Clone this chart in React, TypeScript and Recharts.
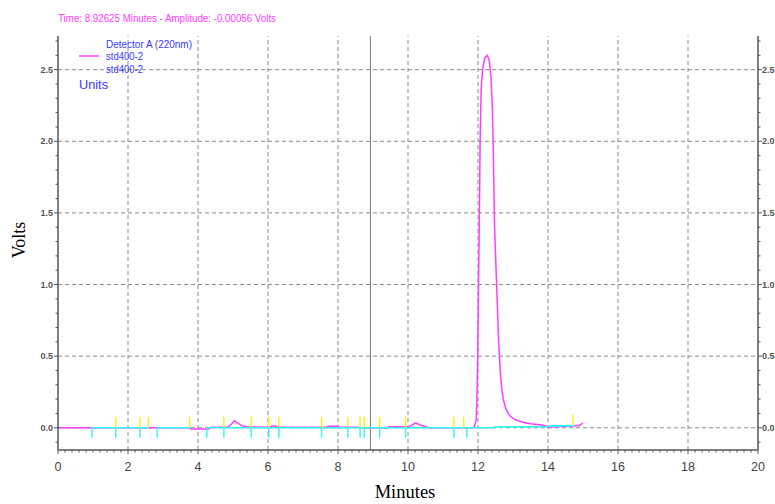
import React from "react"
import { ComposedChart, Line, Scatter, XAxis, YAxis, ReferenceLine } from "recharts"

// std400-2 trace (minutes, volts)
const sampleTimes = [
  0, 3.75, 3.8, 4.3, 4.38, 4.85, 4.95, 5.04, 5.15, 5.25, 5.4, 6.05, 6.12, 6.2, 6.3, 7.65, 7.72, 8.0, 8.05,
  8.6, 8.65, 9.4, 9.45, 10.05, 10.15, 10.22, 10.35, 10.5, 10.6, 11.85, 11.9, 11.95, 11.98, 12.01, 12.04,
  12.06, 12.09, 12.13, 12.19, 12.26, 12.32, 12.37, 12.41, 12.44, 12.47, 12.52, 12.56, 12.59, 12.63, 12.67,
  12.72, 12.8, 12.9, 13.05, 13.28, 13.5, 13.76, 13.95, 14.0, 14.75, 14.88, 14.95, 15.0,
]
const sampleVolts = [
  0, 0, -0.008, -0.008, 0.004, 0.004, 0.025, 0.049, 0.03, 0.015, 0.006, 0.004, 0.012, 0.013, 0.004, 0.004,
  0.01, 0.01, 0.004, 0.003, 0, 0, 0.008, 0.008, 0.025, 0.033, 0.02, 0.008, 0, 0, 0.01, 0.06, 0.3, 0.9, 1.5,
  2.0, 2.36, 2.5, 2.58, 2.6, 2.57, 2.45, 2.24, 1.9, 1.43, 1.08, 0.8, 0.6, 0.42, 0.29, 0.2, 0.13, 0.085, 0.058,
  0.038, 0.028, 0.021, 0.013, 0.006, 0.012, 0.015, 0.025, 0.032,
]

// integration baseline (null = gap)
const baseTimes = [0.95, 2.58, 2.7, 2.83, 3.76, 4.0, 4.25, 12.44, 12.46, 13.98, 14.0, 14.75]
const baseVolts = [0, 0, null, 0, 0, null, 0, 0, 0.006, 0.008, 0.012, 0.015]

// event marks
const startEvents = [1.65, 2.34, 2.58, 3.76, 4.74, 5.52, 6.02, 6.31, 7.53, 8.28, 8.63, 8.75, 9.19, 9.93, 11.31, 11.59, 14.71]
const startLevels = [0, 0, 0, 0, 0, 0, 0, 0, 0, 0, 0, 0, 0, 0, 0, 0, 0.015]
const endEvents = [0.97, 1.65, 2.34, 2.83, 4.25, 4.74, 5.52, 6.02, 6.31, 7.53, 8.28, 8.63, 8.75, 9.19, 9.93, 11.31, 11.68]

const xMajorTicks = [0, 2, 4, 6, 8, 10, 12, 14, 16, 18, 20]
const yMajorTicks = [0, 0.5, 1.0, 1.5, 2.0, 2.5]
const cursorTime = 8.92625

const xTicks: number[] = []
for (let i = 0; i <= 100; i++) xTicks.push(Math.round(i * 2) / 10)
const yTicks: number[] = []
for (let i = -1; i <= 27; i++) yTicks.push(Math.round(i) / 10)

const isMajor = (v: number, step: number) => Math.abs(v / step - Math.round(v / step)) < 1e-6

const sampleData = sampleTimes.map((t, i) => ({ t, v: sampleVolts[i] }))
const baseData = baseTimes.map((t, i) => ({ t, v: baseVolts[i] }))
const startData = startEvents.map((t, i) => ({ t, v: startLevels[i] }))
const endData = endEvents.map((t) => ({ t, v: 0 }))

const MAGENTA = "#ff3cff"
const CYAN = "#30f4f4"
const YELLOW = "#f2f21a"
const BLUE = "#3a3aff"
const AXIS = "#555555"
const GRID = "#8a8a8a"
const TICK_FONT = "'Liberation Sans Narrow', 'Liberation Sans', Arial, sans-serif"

const XTick = (props: any) => {
  const { x, y, payload } = props
  const major = isMajor(payload.value, 2)
  return (
    <g>
      <line x1={x} x2={x} y1={y} y2={y + (major ? 4 : 2.5)} stroke={AXIS} strokeWidth={1} />
      {major && (
        <text x={x} y={y + 21} textAnchor="middle" fontSize={12.5} fill="#444" fontFamily={TICK_FONT}>
          {payload.value}
        </text>
      )}
    </g>
  )
}

const YTickLeft = (props: any) => {
  const { x, y, payload } = props
  const major = isMajor(payload.value, 0.5)
  return (
    <g>
      <line x1={x} x2={x - (major ? 4 : 2.5)} y1={y} y2={y} stroke={AXIS} strokeWidth={1} />
      {major && (
        <text x={x - 5} y={y + 3} textAnchor="end" fontSize={9} fontWeight="bold" fill="#555" fontFamily={TICK_FONT}>
          {payload.value.toFixed(1)}
        </text>
      )}
    </g>
  )
}

const YTickRight = (props: any) => {
  const { x, y, payload } = props
  const major = isMajor(payload.value, 0.5)
  return (
    <g>
      <line x1={x} x2={x + (major ? 4 : 2.5)} y1={y} y2={y} stroke={AXIS} strokeWidth={1} />
      {major && (
        <text x={x + 4} y={y + 3} textAnchor="start" fontSize={9} fontWeight="bold" fill="#555" fontFamily={TICK_FONT}>
          {payload.value.toFixed(1)}
        </text>
      )}
    </g>
  )
}

const StartMark = (props: any) => {
  const { cx, cy } = props
  return <line x1={cx} x2={cx} y1={cy} y2={cy - 11} stroke={YELLOW} strokeWidth={1.4} />
}

const EndMark = (props: any) => {
  const { cx, cy } = props
  return <line x1={cx} x2={cx} y1={cy} y2={cy + 10} stroke={CYAN} strokeWidth={1.4} />
}

const Y_DOMAIN: [number, number] = [-0.155, 2.735]

export default function App() {
  return (
    <div style={{ position: "absolute", left: 0, top: 0, width: 775, height: 504, background: "#fff", overflow: "hidden" }}>
      <ComposedChart width={775} height={504} margin={{ top: 36, right: 0, bottom: 0, left: 0 }}>
        <XAxis
          xAxisId="top"
          orientation="top"
          type="number"
          domain={[0, 20]}
          height={0}
          tick={false}
          tickLine={false}
          axisLine={{ stroke: AXIS, strokeWidth: 1.5 }}
        />
        <XAxis
          dataKey="t"
          type="number"
          domain={[0, 20]}
          ticks={xTicks}
          interval={0}
          height={54}
          tickSize={0}
          tickMargin={0}
          tickLine={false}
          tick={<XTick />}
          axisLine={{ stroke: AXIS, strokeWidth: 1.5 }}
        />
        <YAxis
          yAxisId="left"
          dataKey="v"
          type="number"
          domain={Y_DOMAIN}
          allowDataOverflow
          ticks={yTicks}
          interval={0}
          width={58}
          tickSize={0}
          tickMargin={0}
          tickLine={false}
          tick={<YTickLeft />}
          axisLine={{ stroke: AXIS, strokeWidth: 1.5 }}
        />
        <YAxis
          yAxisId="right"
          orientation="right"
          type="number"
          domain={Y_DOMAIN}
          allowDataOverflow
          ticks={yTicks}
          interval={0}
          width={17}
          tickSize={0}
          tickMargin={0}
          tickLine={false}
          tick={<YTickRight />}
          axisLine={{ stroke: AXIS, strokeWidth: 1.5 }}
        />
        {xMajorTicks.slice(1, -1).map((v) => (
          <ReferenceLine key={"gx" + v} x={v} yAxisId="left" stroke={GRID} strokeDasharray="4 3" />
        ))}
        {yMajorTicks.map((v) => (
          <ReferenceLine key={"gy" + v} y={v} yAxisId="left" stroke={GRID} strokeDasharray="4 3" />
        ))}
        <ReferenceLine x={cursorTime} yAxisId="left" stroke="#7a7a7a" strokeWidth={1} />
        <Line
          yAxisId="left"
          data={sampleData}
          dataKey="v"
          type="linear"
          stroke={MAGENTA}
          strokeWidth={1.5}
          dot={false}
          isAnimationActive={false}
        />
        <Line
          yAxisId="left"
          data={baseData}
          dataKey="v"
          type="linear"
          stroke={CYAN}
          strokeWidth={1.6}
          dot={false}
          connectNulls={false}
          isAnimationActive={false}
        />
        <Scatter yAxisId="left" data={startData} dataKey="v" shape={<StartMark />} isAnimationActive={false} />
        <Scatter yAxisId="left" data={endData} dataKey="v" shape={<EndMark />} isAnimationActive={false} />
      </ComposedChart>
      <svg width={775} height={504} style={{ position: "absolute", left: 0, top: 0, pointerEvents: "none" }}>
        <text x={58} y={22} fontSize={10} fill={MAGENTA} fontFamily="'Liberation Sans', Arial, sans-serif" textLength={218} lengthAdjust="spacingAndGlyphs">
          Time:  8.92625 Minutes - Amplitude:  -0.00056 Volts
        </text>
        <text x={106} y={48} fontSize={10.5} fill={BLUE} fontFamily="'Liberation Sans', Arial, sans-serif" textLength={86} lengthAdjust="spacingAndGlyphs">
          Detector A (220nm)
        </text>
        <line x1={79} x2={99} y1={56} y2={56} stroke={MAGENTA} strokeWidth={1.5} />
        <text x={106} y={60} fontSize={10.5} fill={BLUE} fontFamily="'Liberation Sans', Arial, sans-serif" textLength={37} lengthAdjust="spacingAndGlyphs">
          std400-2
        </text>
        <text x={106} y={72.5} fontSize={10.5} fill={BLUE} fontFamily="'Liberation Sans', Arial, sans-serif" textLength={37} lengthAdjust="spacingAndGlyphs">
          std400-2
        </text>
        <text x={79} y={89} fontSize={13.5} fill={BLUE} fontFamily="'Liberation Sans', Arial, sans-serif" textLength={29} lengthAdjust="spacingAndGlyphs">
          Units
        </text>
        <text x={25} y={240} transform="rotate(-90 25 240)" textAnchor="middle" fontSize={18} fill="#000" fontFamily="'Liberation Serif', 'Times New Roman', serif">
          Volts
        </text>
        <text x={405} y={498} textAnchor="middle" fontSize={18.5} fill="#000" fontFamily="'Liberation Serif', 'Times New Roman', serif">
          Minutes
        </text>
      </svg>
    </div>
  )
}
